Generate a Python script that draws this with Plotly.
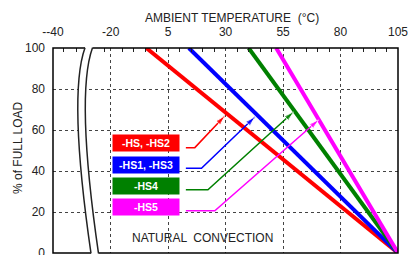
import plotly.graph_objects as go

# ---- data ----
temps_full_load = [-4.5, 14, 40, 52]          # °C where 100% load ends
temp_zero_load = 105                           # °C where load reaches 0
series_names = ["-HS, -HS2", "-HS1, -HS3", "-HS4", "-HS5"]
colors = ["#ff0000", "#0000ff", "#008000", "#ff00ff"]
x_tick_vals = [-45.1, -20, 5, 30, 55, 80, 105]
x_tick_text = ["--40", "-20", "5", "30", "55", "80", "105"]
x_minor_vals = [-40.6, -34.8, -22.9, -15, -10, -5, 0, 10, 15, 20, 25, 35, 40, 45, 50,
                60, 65, 70, 75, 85, 90, 95, 100]
y_tick_vals = [0, 20, 40, 60, 80, 100]
label_x = -4.7
label_y = [53.5, 43.0, 32.5, 22.4]
arrow_x = [[12.7, 16.6, 29.6], [12.7, 19.5, 42.7], [12.7, 22.3, 59.5], [12.7, 25.3, 70.4]]
arrow_y = [[51.4, 51.4, 66.8], [41.3, 41.3, 66.3], [30.8, 30.8, 68.8], [20.6, 20.6, 64.9]]

W, H = 408, 255
# plot area in page pixels
PX0, PX1, PY0, PY1 = 53, 398, 48, 253
L, T = PX0, PY0
R, B = W - PX1, H - PY1
PW, PH = PX1 - PX0, PY1 - PY0
FONT = "Liberation Sans, Arial, sans-serif"


def px(xp):
    return (xp - PX0) / PW


def py(yp):
    return (PY1 - yp) / PH


fig = go.Figure()

for t0, name, c in zip(temps_full_load, series_names, colors):
    fig.add_trace(go.Scatter(x=[t0, temp_zero_load], y=[100, 0], mode="lines",
                             line=dict(color=c, width=4), name=name,
                             showlegend=False, hoverinfo="skip"))

for ax_, ay_, c in zip(arrow_x, arrow_y, colors):
    fig.add_trace(go.Scatter(x=ax_, y=ay_, mode="lines+markers",
                             line=dict(color=c, width=1.5),
                             marker=dict(symbol=["circle", "circle", "arrow"],
                                         size=[0, 0, 10], color=c,
                                         angleref="previous"),
                             showlegend=False, hoverinfo="skip"))

for name, c, yv in zip(series_names, colors, label_y):
    fig.add_annotation(x=label_x, y=yv, xref="x", yref="y", text="<b>%s</b>" % name,
                       showarrow=False, bgcolor=c, width=66, height=16, borderpad=0,
                       xanchor="center", yanchor="middle",
                       font=dict(family=FONT, size=10.5, color="white"))

fig.add_annotation(x=px(202), y=py(238), xref="paper", yref="paper",
                   text="NATURAL  CONVECTION", showarrow=False,
                   xanchor="center", yanchor="middle",
                   font=dict(family=FONT, size=12, color="#222"))
fig.add_annotation(x=px(231.5), y=py(17.5), xref="paper", yref="paper",
                   text="AMBIENT TEMPERATURE  (°C)", showarrow=False,
                   xanchor="center", yanchor="middle",
                   font=dict(family=FONT, size=12, color="#222"))
fig.add_annotation(x=px(18), y=py(148), xref="paper", yref="paper",
                   text="% of FULL LOAD", showarrow=False, textangle=-90,
                   xanchor="center", yanchor="middle",
                   font=dict(family=FONT, size=12, color="#222"))

shapes = []
# frame
shapes.append(dict(type="rect", xref="paper", yref="paper", x0=0, y0=0, x1=1, y1=1,
                   line=dict(color="black", width=1.5), layer="above"))
# axis break (white gap + two curves)
lt, lc, lb = (85, PY0 - 0.3), (68, 95), (91, PY1 + 0.3)
rt, rc, rb = (92.5, PY0 - 0.3), (75.5, 95), (98.5, PY1 + 0.3)


def P(p):
    return "%f,%f" % (px(p[0]), py(p[1]))


gap = ("M %s L %s Q %s %s L %s L %s L %s Q %s %s L %s Z" %
       (P((lt[0], PY0 - 3)), P(lt), P(lc), P(lb), P((lb[0], PY1 + 3)),
        P((rb[0], PY1 + 3)), P(rb), P(rc), P(rt), P((rt[0], PY0 - 3))))
shapes.append(dict(type="path", xref="paper", yref="paper", path=gap,
                   fillcolor="white", line=dict(width=0), layer="above"))
for a, b_, c_ in [(lt, lc, lb), (rt, rc, rb)]:
    shapes.append(dict(type="path", xref="paper", yref="paper",
                       path="M %s Q %s %s" % (P(a), P(b_), P(c_)),
                       line=dict(color="#222", width=1.5), layer="above"))

fig.update_layout(
    width=W, height=H, margin=dict(l=L, r=R, t=T, b=B, autoexpand=False),
    paper_bgcolor="white", plot_bgcolor="white",
    font=dict(family=FONT, size=12, color="#222"),
    shapes=shapes,
    xaxis=dict(range=[-45.1, 105], side="top", tickmode="array",
               tickvals=x_tick_vals, ticktext=x_tick_text, ticks="",
               ticklabelstandoff=9, ticklabeloverflow="allow",
               showgrid=True, gridcolor="#444", griddash="dot", gridwidth=1,
               zeroline=False, showline=False, automargin=False,
               tickfont=dict(size=12, color="#222"),
               minor=dict(tickmode="array", tickvals=x_minor_vals, ticks="inside",
                          ticklen=4, tickcolor="#222", tickwidth=1, showgrid=False)),
    yaxis=dict(range=[0, 100], tickmode="array", tickvals=y_tick_vals, ticks="",
               ticklabelstandoff=7, ticklabeloverflow="allow",
               showgrid=True, gridcolor="#444", griddash="dot", gridwidth=1,
               zeroline=False, showline=False, automargin=False,
               tickfont=dict(size=12, color="#222")),
)

fig.write_html("out.html",
               config={"displayModeBar": False},
               post_script="document.body.style.margin='0';"
                           "document.body.style.overflow='hidden';")
